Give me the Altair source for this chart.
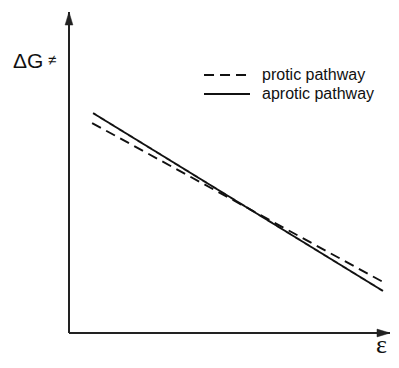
import altair as alt
import pandas as pd

# Data (abstract units: epsilon on x, activation free energy on y)
pathway = ["protic pathway", "protic pathway", "aprotic pathway", "aprotic pathway"]
eps = [0.72, 9.78, 0.75, 9.78]
dG = [6.54, 1.59, 6.85, 1.31]
series_order = ["protic pathway", "aprotic pathway"]

# axis frame (origin and arrow ends)
axis_x = [0, 10, 0, 0]
axis_y = [0, 0, 0, 10]
axis_id = ["x", "x", "y", "y"]

lines_df = pd.DataFrame({"pathway": pathway, "eps": eps, "dG": dG})
axes_df = pd.DataFrame({"ax": axis_id, "x": axis_x, "y": axis_y})
tipx_df = pd.DataFrame({"x": [10], "y": [0]})
tipy_df = pd.DataFrame({"x": [0], "y": [10]})

xs = alt.Scale(domain=[0, 10], range=[61, 382])
ys = alt.Scale(domain=[0, 10], range=[325, 4])

axes = alt.Chart(axes_df).mark_line(color="#222222", strokeWidth=2, clip=False).encode(
    x=alt.X("x:Q", scale=xs, axis=None),
    y=alt.Y("y:Q", scale=ys, axis=None),
    detail="ax:N",
)

tip_x = alt.Chart(tipx_df).mark_point(
    shape="M 0 0 L -2 -0.6 L -2 0.6 Z", size=169, filled=True,
    fill="#222222", stroke="#222222", strokeWidth=0.5, opacity=1, clip=False
).encode(x=alt.X("x:Q", scale=xs, axis=None), y=alt.Y("y:Q", scale=ys, axis=None))

tip_y = alt.Chart(tipy_df).mark_point(
    shape="M 0 0 L 0.6 2 L -0.6 2 Z", size=169, filled=True,
    fill="#222222", stroke="#222222", strokeWidth=0.5, opacity=1, clip=False
).encode(x=alt.X("x:Q", scale=xs, axis=None), y=alt.Y("y:Q", scale=ys, axis=None))

lines = alt.Chart(lines_df).mark_line(color="#111111", strokeWidth=1.9, clip=False).encode(
    x=alt.X("eps:Q", scale=xs, axis=None),
    y=alt.Y("dG:Q", scale=ys, axis=None),
    strokeDash=alt.StrokeDash(
        "pathway:N",
        scale=alt.Scale(domain=series_order, range=[[10, 6], [1, 0]]),
        legend=alt.Legend(
            title=None,
            orient="none",
            legendX=211,
            legendY=59,
            padding=0,
            symbolType="M -4 0 L 4 0",
            symbolSize=132,
            symbolStrokeWidth=2,
            symbolStrokeColor="#111111",
            symbolFillColor="transparent",
            labelFont="Liberation Sans",
            labelFontSize=16,
            labelColor="#111111",
            labelOffset=27,
            rowPadding=3,
        ),
    ),
    order=alt.Order("eps:Q"),
)

ylab = alt.Chart(pd.DataFrame({"t": ["ΔG"]})).mark_text(
    font="Liberation Sans", fontSize=21, align="left", baseline="alphabetic", color="#111111"
).encode(text="t:N", x=alt.value(5), y=alt.value(60))

neq = alt.Chart(pd.DataFrame({"t": ["≠"]})).mark_text(
    font="Liberation Sans", fontSize=15, align="left", baseline="middle", color="#111111"
).encode(text="t:N", x=alt.value(40), y=alt.value(52))

xlab = alt.Chart(pd.DataFrame({"t": ["ε"]})).mark_text(
    font="Liberation Serif", fontSize=26, align="left",
    baseline="alphabetic", color="#111111"
).encode(text="t:N", x=alt.value(368), y=alt.value(345))

chart = alt.layer(axes, tip_x, tip_y, lines, ylab, neq, xlab).properties(
    width=383, height=352, autosize=alt.AutoSizeParams(type="none"), padding=0
).configure_view(stroke=None)

chart.save("out.html", embed_options={"renderer": "svg", "actions": False})
